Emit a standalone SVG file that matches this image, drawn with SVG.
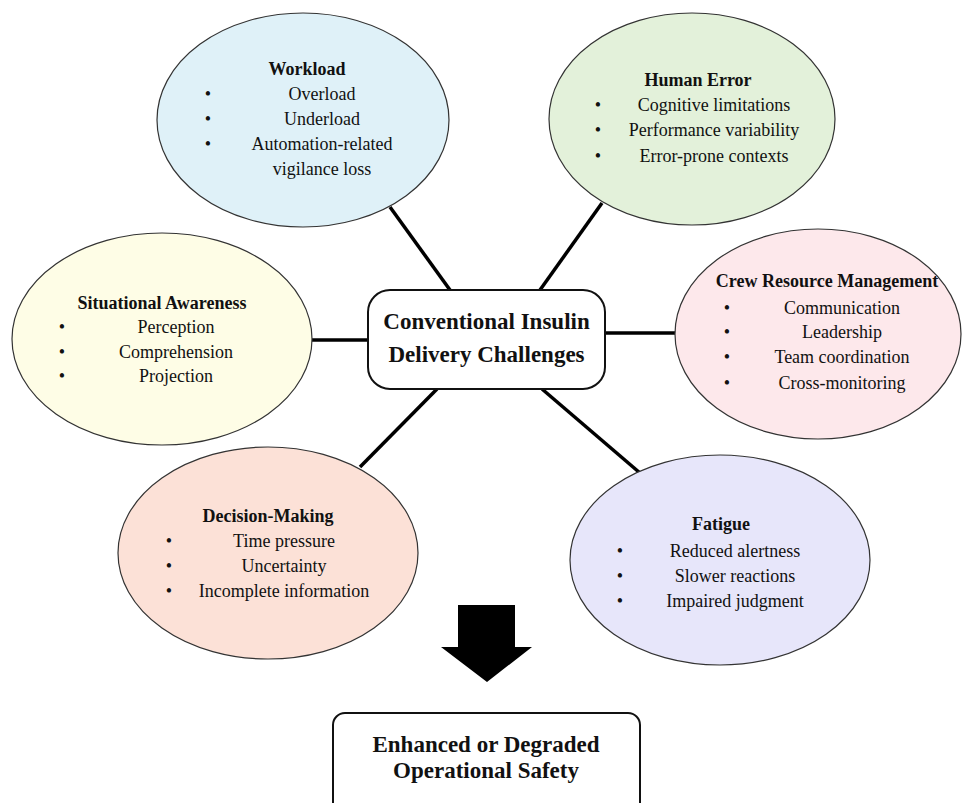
<svg xmlns="http://www.w3.org/2000/svg" width="963" height="803" viewBox="0 0 963 803">
<style>
.ell{stroke:#333;stroke-width:1.2}
.t{font-family:"Liberation Serif","Times New Roman",serif;font-size:18px;fill:#111;text-anchor:middle}
.b{font-weight:bold}
.big{font-size:23px;font-weight:bold}
.box{fill:#fff;stroke:#111;stroke-width:2}
.con{stroke:#000;stroke-width:3.5;stroke-linecap:butt}
</style>
<rect width="963" height="803" fill="#fff"/>
<g id="connectors">
<line class="con" x1="390" y1="207" x2="450" y2="290"/>
<line class="con" x1="602" y1="203" x2="540" y2="290"/>
<line class="con" x1="312" y1="340" x2="368" y2="340"/>
<line class="con" x1="605" y1="333" x2="676" y2="333"/>
<line class="con" x1="437" y1="389" x2="360" y2="467"/>
<line class="con" x1="542" y1="389" x2="640" y2="473"/>
</g>
<g id="workload">
<ellipse class="ell" cx="303" cy="120" rx="146" ry="107" fill="#DFF1F8"/>
<text class="t b" x="307" y="75">Workload</text>
<text class="t" x="208" y="100">•</text><text class="t" x="322" y="100">Overload</text>
<text class="t" x="208" y="125">•</text><text class="t" x="322" y="125">Underload</text>
<text class="t" x="208" y="150">•</text><text class="t" x="322" y="150">Automation-related</text>
<text class="t" x="322" y="175">vigilance loss</text>
</g>
<g id="human-error">
<ellipse class="ell" cx="692" cy="119" rx="143" ry="106" fill="#E3F1DA"/>
<text class="t b" x="698" y="86">Human Error</text>
<text class="t" x="598" y="111">•</text><text class="t" x="714" y="111">Cognitive limitations</text>
<text class="t" x="598" y="136">•</text><text class="t" x="714" y="136">Performance variability</text>
<text class="t" x="598" y="162">•</text><text class="t" x="714" y="162">Error-prone contexts</text>
</g>
<g id="situational-awareness">
<ellipse class="ell" cx="162" cy="339" rx="150" ry="106" fill="#FEFDE6"/>
<text class="t b" x="162" y="309">Situational Awareness</text>
<text class="t" x="62" y="333">•</text><text class="t" x="176" y="333">Perception</text>
<text class="t" x="62" y="358">•</text><text class="t" x="176" y="358">Comprehension</text>
<text class="t" x="62" y="382">•</text><text class="t" x="176" y="382">Projection</text>
</g>
<g id="crew-resource-management">
<ellipse class="ell" cx="818" cy="334" rx="143" ry="105" fill="#FDE8EB"/>
<text class="t b" x="827" y="287">Crew Resource Management</text>
<text class="t" x="727" y="314">•</text><text class="t" x="842" y="314">Communication</text>
<text class="t" x="727" y="338">•</text><text class="t" x="842" y="338">Leadership</text>
<text class="t" x="727" y="363">•</text><text class="t" x="842" y="363">Team coordination</text>
<text class="t" x="727" y="389">•</text><text class="t" x="842" y="389">Cross-monitoring</text>
</g>
<g id="decision-making">
<ellipse class="ell" cx="268" cy="553" rx="150" ry="106" fill="#FCE1D7"/>
<text class="t b" x="268" y="522">Decision-Making</text>
<text class="t" x="169" y="547">•</text><text class="t" x="284" y="547">Time pressure</text>
<text class="t" x="169" y="572">•</text><text class="t" x="284" y="572">Uncertainty</text>
<text class="t" x="169" y="597">•</text><text class="t" x="284" y="597">Incomplete information</text>
</g>
<g id="fatigue">
<ellipse class="ell" cx="720" cy="560" rx="150" ry="105" fill="#E7E6FA"/>
<text class="t b" x="721" y="530">Fatigue</text>
<text class="t" x="620" y="557">•</text><text class="t" x="735" y="557">Reduced alertness</text>
<text class="t" x="620" y="582">•</text><text class="t" x="735" y="582">Slower reactions</text>
<text class="t" x="620" y="607">•</text><text class="t" x="735" y="607">Impaired judgment</text>
</g>
<g id="center">
<rect class="box" x="368" y="290" width="237" height="99" rx="22"/>
<text class="t big" x="486.5" y="329">Conventional Insulin</text>
<text class="t big" x="486.5" y="362">Delivery Challenges</text>
</g>
<g id="arrow">
<polygon points="458,605 515,605 515,647 532,647 487,682 441,647 458,647" fill="#000"/>
</g>
<g id="outcome">
<rect class="box" x="333" y="713" width="307" height="110" rx="12"/>
<text class="t big" x="486" y="752">Enhanced or Degraded</text>
<text class="t big" x="486" y="778">Operational Safety</text>
</g>
</svg>
